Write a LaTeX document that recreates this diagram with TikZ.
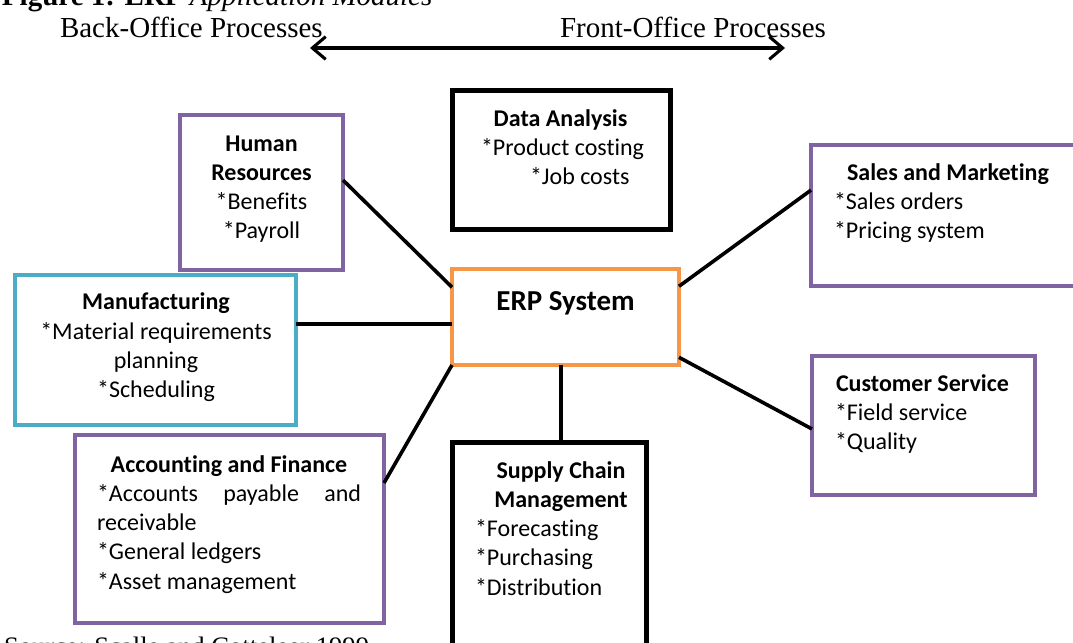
\documentclass[tikz,border=0pt]{standalone}
\usepackage{fontspec}
\setmainfont{Liberation Serif}
\newfontfamily\boxfont[Ligatures=NoCommon]{Carlito}
\usetikzlibrary{arrows.meta,calc}

\definecolor{modpurple}{HTML}{8064A2}
\definecolor{modteal}{HTML}{4BACC6}
\definecolor{modorange}{HTML}{F79646}

\begin{document}
\begin{tikzpicture}[x=0.75pt,y=-0.75pt,
  every node/.style={inner sep=0pt,outer sep=0pt},
  modbox/.style={draw,rectangle,line width=3pt,fill=white},
  purplebox/.style={modbox,draw=modpurple},
  tealbox/.style={modbox,draw=modteal},
  blackbox/.style={modbox,draw=black,line width=3.75pt},
  erpbox/.style={modbox,draw=modorange,line width=3.4pt},
  txt/.style={font=\boxfont\fontsize{18}{22}\selectfont,anchor=base},
  txtl/.style={txt,anchor=base west},
  head/.style={font=\boxfont\bfseries\fontsize{18}{22}\selectfont,anchor=base},
  headl/.style={head,anchor=base west},
  serif/.style={font=\fontsize{21.75}{26}\selectfont,anchor=base west},
  link/.style={draw=black,line width=2.7pt},
  span/.style={draw=black,line width=2.3pt,{Straight Barb[length=10pt,width=17pt,line width=2.3pt]}-{Straight Barb[length=10pt,width=17pt,line width=2.3pt]}}
]
\useasboundingbox (0,0) rectangle (1073,642);
\clip (0,0) rectangle (1073,642);

% headings
\node[serif] (title) at (2,6) {\textbf{Figure 1: ERP} \textit{Application Modules}};
\node[serif] (back) at (60,38) {Back-Office Processes};
\node[serif] (front) at (560,38) {Front-Office Processes};
\coordinate (spanL) at (310,48);
\coordinate (spanR) at (785,48);
\draw[span] (spanL) -- (spanR);
\node[anchor=base west,font=\fontsize{20}{24}\selectfont] (src) at (4,655) {Source: Scalle and Cotteleer 1999};

% module boxes
\node[purplebox,minimum width=163*0.75pt,minimum height=155*0.75pt] (hr) at (261.5,192.5) {};
\node[blackbox,minimum width=218*0.75pt,minimum height=139*0.75pt] (data) at (561,159.5) {};
\node[purplebox,minimum width=284*0.75pt,minimum height=141*0.75pt] (sales) at (953,215.5) {};
\node[tealbox,minimum width=281*0.75pt,minimum height=150*0.75pt] (mfg) at (155.5,350) {};
\node[erpbox,minimum width=227*0.75pt,minimum height=96*0.75pt] (erp) at (565.5,317) {};
\node[purplebox,minimum width=223*0.75pt,minimum height=139*0.75pt] (cust) at (923.5,425.5) {};
\node[purplebox,minimum width=309*0.75pt,minimum height=188*0.75pt] (acct) at (229.5,529) {};
\node[blackbox,minimum width=194*0.75pt,minimum height=228*0.75pt] (supply) at (549,556) {};

% connectors from the ERP system to each module
\draw[link] ($(hr.north east)!0.42!(hr.south east)$) -- ($(erp.north west)!0.19!(erp.south west)$);
\coordinate (erpW) at ($(erp.north west)!0.57!(erp.south west)$);
\draw[link] (mfg.east |- erpW) -- (erpW);
\draw[link] ($(acct.north east)!0.255!(acct.south east)$) -- (erp.south west);
\coordinate (erpS) at ($(erp.south west)!0.48!(erp.south east)$);
\draw[link] (erpS) -- (erpS |- supply.north);
\draw[link] ($(erp.north east)!0.18!(erp.south east)$) -- ($(sales.north west)!0.32!(sales.south west)$);
\draw[link] ($(erp.north east)!0.92!(erp.south east)$) -- ($(cust.north west)!0.525!(cust.south west)$);

% ERP system
\node[font=\boxfont\bfseries\fontsize{21.7}{26}\selectfont,anchor=base] (erpT) at (565.5,310) {ERP System};

% Human Resources
\node[head] (hr1) at (261.5,151) {Human};
\node[head] (hr2) at (261.5,180) {Resources};
\node[txt] (hr3) at (261.5,209) {*Benefits};
\node[txt] (hr4) at (261.5,238) {*Payroll};

% Data Analysis
\node[head] (da1) at (560.5,126) {Data Analysis};
\node[txtl] (da2) at (481,155) {*Product costing};
\node[txtl] (da3) at (530,184) {*Job costs};

% Sales and Marketing
\node[head] (sm1) at (948,180) {Sales and Marketing};
\node[txtl] (sm2) at (834,209) {*Sales orders};
\node[txtl] (sm3) at (834,238) {*Pricing system};

% Manufacturing
\node[head] (mf1) at (156,309) {Manufacturing};
\node[txt] (mf2) at (156,339) {*Material requirements};
\node[txt] (mf3) at (156,368) {planning};
\node[txt] (mf4) at (156,397) {*Scheduling};

% Customer Service
\node[headl] (cs1) at (836,391) {Customer Service};
\node[txtl] (cs2) at (835,420) {*Field service};
\node[txtl] (cs3) at (835,449) {*Quality};

% Accounting and Finance
\node[head] (af1) at (229,472) {Accounting and Finance};
\node[txtl,text width=264*0.75pt,align=left] (af2) at (97,501) {*Accounts\hfill payable\hfill and};
\node[txtl] (af3) at (97,530) {receivable};
\node[txtl] (af4) at (97,559) {*General ledgers};
\node[txtl] (af5) at (97,589) {*Asset management};

% Supply Chain Management
\node[head] (sc1) at (561,478) {Supply Chain};
\node[head] (sc2) at (561,507) {Management};
\node[txtl] (sc3) at (475,536) {*Forecasting};
\node[txtl] (sc4) at (475,565) {*Purchasing};
\node[txtl] (sc5) at (475,595) {*Distribution};
\end{tikzpicture}
\end{document}
